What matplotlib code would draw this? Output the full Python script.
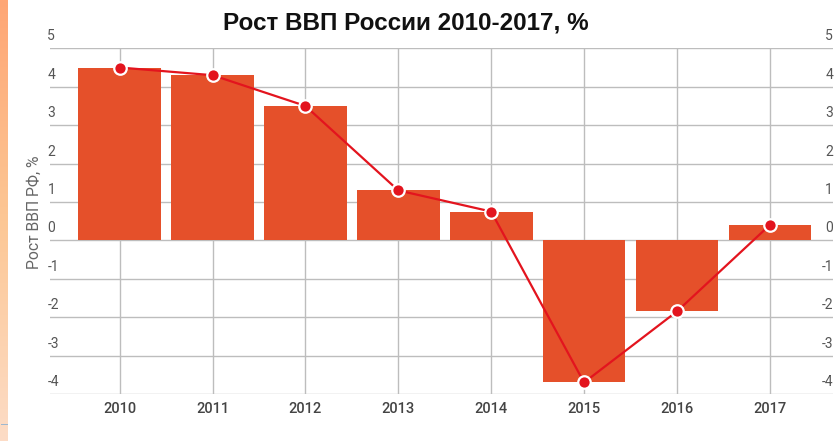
import matplotlib.pyplot as plt
from matplotlib.patches import Rectangle
from matplotlib.colors import LinearSegmentedColormap
import numpy as np

plt.rcParams['font.family'] = ['Roboto', 'DejaVu Sans']

years = ['2010', '2011', '2012', '2013', '2014', '2015', '2016', '2017']
gdp_growth = [4.5, 4.3, 3.5, 1.3, 0.75, -3.7, -1.85, 0.4]
y_ticks = [5, 4, 3, 2, 1, 0, -1, -2, -3, -4]

bar_color = '#E5502A'
line_color = '#E3141E'
grid_color = '#BDBDBD'
label_color = '#555555'

fig = plt.figure(figsize=(8.35, 4.41), dpi=100)
ax = fig.add_axes([49.5 / 835, 1 - 394 / 441, (833 - 49.5) / 835, (394 - 48.3) / 441])

x = np.arange(len(years))

# grid behind the bars
for yv in y_ticks:
    ax.axhline(yv, color=grid_color, lw=1.0, zorder=0)
for xv in x:
    ax.axvline(xv, color=grid_color, lw=1.0, zorder=0)

ax.bar(x, gdp_growth, width=0.89, color=bar_color, zorder=2)
ax.plot(x, gdp_growth, color=line_color, lw=1.6, marker='o', markersize=9,
        markerfacecolor=line_color, markeredgecolor='white', markeredgewidth=1.6,
        zorder=3, clip_on=False)

ax.set_xlim(-0.755, 7.68)
ax.set_ylim(-4, 5)
for s in ax.spines.values():
    s.set_visible(False)

ax.set_yticks([])
ax.set_xticks(x)
ax.set_xticklabels(years, fontsize=10.5, color='#444444', fontweight='medium')
ax.tick_params(axis='x', length=0, pad=6)

# value labels sit just above each grid line, on both sides
for yv in y_ticks:
    ax.annotate(str(yv), xy=(0, yv), xycoords=('axes fraction', 'data'),
                xytext=(-1.5, 3.5), textcoords='offset points', ha='left', va='bottom',
                fontsize=10, color=label_color)
    ax.annotate(str(yv), xy=(1, yv), xycoords=('axes fraction', 'data'),
                xytext=(0, 3.5), textcoords='offset points', ha='right', va='bottom',
                fontsize=10, color=label_color)

fig.text(34 / 835, 1 - 212 / 441, 'Рост ВВП РФ, %', rotation=90, ha='center', va='center',
         fontsize=11.3, color='#666666')
fig.text(406 / 835, 1 - 23 / 441, 'Рост ВВП России 2010-2017, %', ha='center', va='center',
         fontsize=17.5, fontweight='bold', color='#111111',
         family=['Liberation Sans', 'DejaVu Sans'])

# orange gradient strip on the left edge
strip = LinearSegmentedColormap.from_list('strip', ['#FFA675', '#FCC795', '#FDDCC6'])
grad = np.linspace(0, 1, 256).reshape(-1, 1)
sax = fig.add_axes([0, 0, 7.5 / 835, 1])
sax.imshow(grad, aspect='auto', cmap=strip, extent=[0, 1, 0, 1])
sax.axis('off')
fig.add_artist(Rectangle((1 / 835, 1 - 425 / 441), 7 / 835, 1.5 / 441,
                         transform=fig.transFigure, color='#9DB8D0', lw=0))

fig.savefig('out.png', dpi=100)
